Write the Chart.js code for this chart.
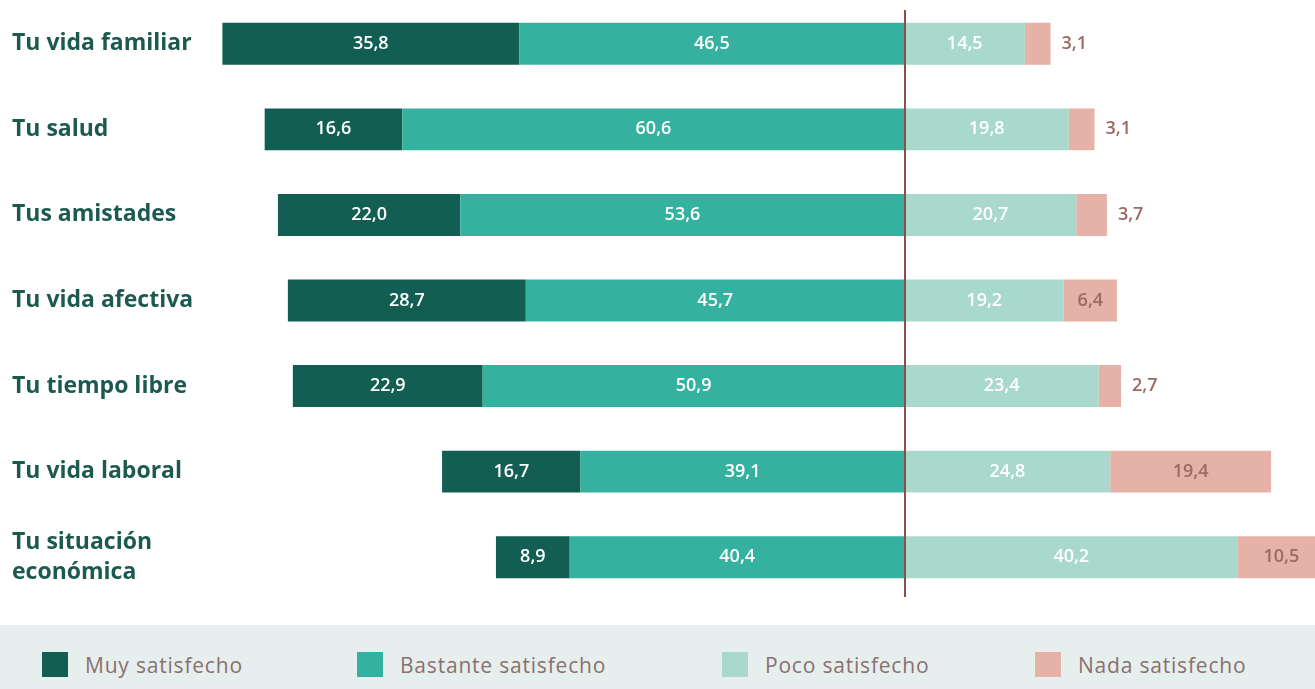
<!DOCTYPE html>
<html lang="es">
<head>
<meta charset="utf-8">
<title>Satisfacción con distintos aspectos de la vida</title>
<script src="https://cdn.jsdelivr.net/npm/chart.js@4/dist/chart.umd.min.js"></script>
<style>
  html, body { margin: 0; padding: 0; background: #ffffff; }
  body { width: 1315px; height: 689px; position: relative; overflow: hidden; }
  #wrap { position: absolute; left: 0; top: 0; width: 1315px; height: 625px; }
  #legend {
    position: absolute; left: 0; top: 625px; width: 1315px; height: 64px;
    background: #e6efee;
  }
  .item { position: absolute; top: 27px; height: 25px; display: flex; align-items: center; }
  .box { width: 26px; height: 25px; margin-right: 17px; flex: none; }
  .txt { font-family: "Open Sans", sans-serif; font-size: 21px; color: #8a7070; letter-spacing: 0.8px; white-space: nowrap; }
</style>
</head>
<body>
<div id="wrap"><canvas id="chart" width="1315" height="625"></canvas></div>
<div id="legend"></div>
<script>
// Aspects of life rated (multi-line labels as arrays)
const categories = [
  "Tu vida familiar",
  "Tu salud",
  "Tus amistades",
  "Tu vida afectiva",
  "Tu tiempo libre",
  "Tu vida laboral",
  ["Tu situación", "económica"]
];

// Percentages per answer
const muySatisfecho      = [35.8, 16.6, 22.0, 28.7, 22.9, 16.7, 8.9];
const bastanteSatisfecho = [46.5, 60.6, 53.6, 45.7, 50.9, 39.1, 40.4];
const pocoSatisfecho     = [14.5, 19.8, 20.7, 19.2, 23.4, 24.8, 40.2];
const nadaSatisfecho     = [3.1, 3.1, 3.7, 6.4, 2.7, 19.4, 10.5];

const seriesNames = ["Muy satisfecho", "Bastante satisfecho", "Poco satisfecho", "Nada satisfecho"];
const seriesColors = ["#125e52", "#35b19f", "#a9d9cc", "#e6b1a6"];
const labelColors  = ["#ffffff", "#ffffff", "#ffffff", "#9c6a62"];

// Legend item left offsets
const legendLeft = [42, 357, 722, 1035];

// Satisfied answers run to the left of the divider, so they are negated.
// Bastante comes first so it sits next to the divider.
const datasets = [
  { label: seriesNames[1], data: bastanteSatisfecho.map(v => -v), backgroundColor: seriesColors[1], _lc: labelColors[1], _kind: 1 },
  { label: seriesNames[0], data: muySatisfecho.map(v => -v),      backgroundColor: seriesColors[0], _lc: labelColors[0], _kind: 0 },
  { label: seriesNames[2], data: pocoSatisfecho,                  backgroundColor: seriesColors[2], _lc: labelColors[2], _kind: 2 },
  { label: seriesNames[3], data: nadaSatisfecho,                  backgroundColor: seriesColors[3], _lc: labelColors[3], _kind: 3 }
];

const fmt = v => Math.abs(v).toFixed(1).replace(".", ",");

// Value labels on each segment; small "nada" values go just outside the bar
const valueLabels = {
  id: "valueLabels",
  afterDatasetsDraw(chart) {
    const ctx = chart.ctx;
    ctx.save();
    ctx.font = "600 18px 'Open Sans', sans-serif";
    ctx.textBaseline = "middle";
    chart.data.datasets.forEach((ds, di) => {
      const meta = chart.getDatasetMeta(di);
      meta.data.forEach((bar, i) => {
        const v = ds.data[i];
        const left = Math.min(bar.x, bar.base);
        const right = Math.max(bar.x, bar.base);
        ctx.fillStyle = ds._lc;
        if (ds._kind === 3 && Math.abs(v) < 5) {
          ctx.textAlign = "left";
          ctx.fillText(fmt(v), right + 11, bar.y);
        } else {
          ctx.textAlign = "center";
          ctx.fillText(fmt(v), (left + right) / 2, bar.y);
        }
      });
    });
    ctx.restore();
  }
};

// Divider at zero
const divider = {
  id: "divider",
  afterDatasetsDraw(chart) {
    const x = Math.round(chart.scales.x.getPixelForValue(0));
    const ctx = chart.ctx;
    ctx.save();
    ctx.strokeStyle = "#8c4f45";
    ctx.lineWidth = 2;
    ctx.beginPath();
    ctx.moveTo(x, 10);
    ctx.lineTo(x, 597);
    ctx.stroke();
    ctx.restore();
  }
};

new Chart(document.getElementById("chart"), {
  type: "bar",
  data: { labels: categories, datasets },
  options: {
    indexAxis: "y",
    responsive: false,
    animation: false,
    layout: { padding: { left: 12, right: 0, top: 1, bottom: 25 } },
    datasets: { bar: { barPercentage: 0.49, categoryPercentage: 1, borderWidth: 0 } },
    plugins: { legend: { display: false }, tooltip: { enabled: false } },
    scales: {
      x: {
        stacked: true,
        display: false,
        min: -85,
        max: 49.5
      },
      y: {
        stacked: true,
        grid: { display: false },
        border: { display: false },
        afterFit(scale) {
          scale.width = 188;
          scale.paddingTop = 0;
          scale.paddingBottom = 0;
        },
        ticks: {
          crossAlign: "far",
          color: "#1c5a50",
          font: { family: "'Open Sans', sans-serif", size: 23, weight: "bold", lineHeight: 1.3 }
        }
      }
    }
  },
  plugins: [valueLabels, divider]
});

// Legend in reading order
const legend = document.getElementById("legend");
seriesNames.forEach((name, i) => {
  const item = document.createElement("div");
  item.className = "item";
  item.style.left = legendLeft[i] + "px";
  const box = document.createElement("div");
  box.className = "box";
  box.style.background = seriesColors[i];
  const txt = document.createElement("span");
  txt.className = "txt";
  txt.textContent = name;
  item.appendChild(box);
  item.appendChild(txt);
  legend.appendChild(item);
});
</script>
</body>
</html>
